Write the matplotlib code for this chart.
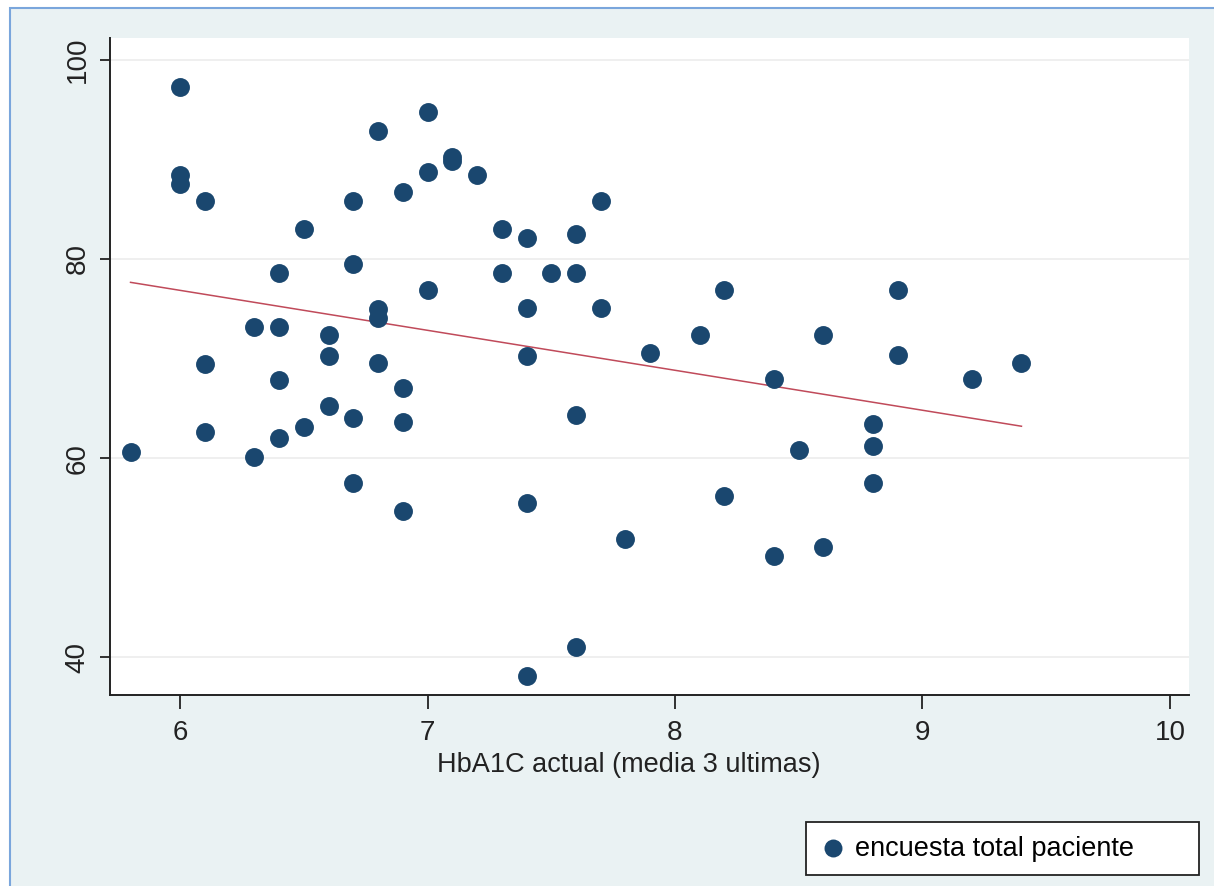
import numpy as np
import matplotlib
matplotlib.use("Agg")
from matplotlib import pyplot as plt
from matplotlib.patches import Rectangle

plt.rcParams['font.family'] = ['Liberation Sans', 'DejaVu Sans']

# HbA1C (x) vs encuesta total paciente (y)
hba1c = [5.8, 6.0, 6.0, 6.0, 6.1, 6.1, 6.1, 6.3, 6.3, 6.4, 6.4, 6.4, 6.4,
         6.5, 6.5, 6.6, 6.6, 6.6, 6.7, 6.7, 6.7, 6.7, 6.8, 6.8, 6.8, 6.8,
         6.9, 6.9, 6.9, 6.9, 7.0, 7.0, 7.0, 7.1, 7.1, 7.2, 7.3, 7.3, 7.4,
         7.4, 7.4, 7.4, 7.4, 7.5, 7.6, 7.6, 7.6, 7.6, 7.7, 7.7, 7.8, 7.9,
         8.1, 8.2, 8.2, 8.4, 8.4, 8.5, 8.6, 8.6, 8.8, 8.8, 8.8, 8.9, 8.9,
         9.2, 9.4]
encuesta = [60.6, 97.3, 88.4, 87.5, 85.8, 69.5, 62.6, 73.2, 60.1, 78.6, 73.2, 67.8, 62.0,
            83.0, 63.1, 72.4, 70.3, 65.2, 85.8, 79.5, 64.0, 57.5, 92.9, 75.0, 74.1, 69.6,
            86.7, 67.0, 63.6, 54.7, 94.8, 88.7, 76.9, 90.2, 89.8, 88.4, 83.0, 78.6, 82.1,
            75.1, 70.3, 55.5, 38.1, 78.6, 82.5, 78.6, 64.3, 41.0, 85.8, 75.1, 51.9, 70.6,
            72.4, 76.9, 56.2, 67.9, 50.2, 60.8, 72.4, 51.1, 63.4, 61.2, 57.5, 76.9, 70.4,
            67.9, 69.6]

xticks = [6, 7, 8, 9, 10]
yticks = [40, 60, 80, 100]

W, H = 1214, 886
fig = plt.figure(figsize=(W / 100, H / 100), dpi=100, facecolor='white')

# stata-like graph region with a blue frame on top/left
fig.patches.append(Rectangle((10 / W, -0.02), 1.05, 1 - 8 / H + 0.02,
                             transform=fig.transFigure, facecolor='#eaf2f3',
                             edgecolor='#7aa6dc', linewidth=1.5, zorder=-5))

ax = fig.add_axes([110 / W, 1 - 695 / H, (1189 - 110) / W, (695 - 38) / H])
ax.set_facecolor('white')

pts = ax.scatter(hba1c, encuesta, s=185, color='#1a476f', linewidths=0,
                 zorder=3, label='encuesta total paciente')

# linear fit
b, a = np.polyfit(hba1c, encuesta, 1)
xf = np.array([min(hba1c), max(hba1c)])
ax.plot(xf, a + b * xf, color='#c04a5a', linewidth=1.1, zorder=2)

ax.set_xlim(5.717, 10.077)
ax.set_ylim(36.2, 102.2)
ax.set_xticks(xticks)
ax.set_yticks(yticks)
ax.grid(axis='y', color='#ececec', linewidth=1.2)
ax.set_axisbelow(True)

for s in ['top', 'right']:
    ax.spines[s].set_visible(False)
for s in ['left', 'bottom']:
    ax.spines[s].set_linewidth(1.4)
    ax.spines[s].set_color('#222222')

ax.tick_params(axis='x', length=10, width=1.3, labelsize=20, pad=8, colors='#222222')
ax.tick_params(axis='y', length=7, width=1.3, labelsize=20, pad=7, colors='#222222')
for lab in ax.get_yticklabels():
    lab.set_rotation(90)
    lab.set_va('center')

ax.set_xlabel('HbA1C actual (media 3 ultimas)', fontsize=19.5, color='#222222')
ax.xaxis.set_label_coords(0.4805, -0.107, transform=ax.transAxes)
ax.xaxis.label.set_va('center')

leg = fig.legend(handles=[pts], loc='center', mode='expand',
                 bbox_to_anchor=(806 / W, 1 - 877 / H, 393 / W, 57 / H),
                 fontsize=19.5, frameon=True, fancybox=False, markerscale=0.95,
                 framealpha=1, handletextpad=0.3, borderpad=0.5, handlelength=1.0,
                 borderaxespad=0)
leg.get_frame().set_edgecolor('#222222')
leg.get_frame().set_linewidth(1.3)

fig.savefig('out.png', dpi=100, facecolor=fig.get_facecolor())
